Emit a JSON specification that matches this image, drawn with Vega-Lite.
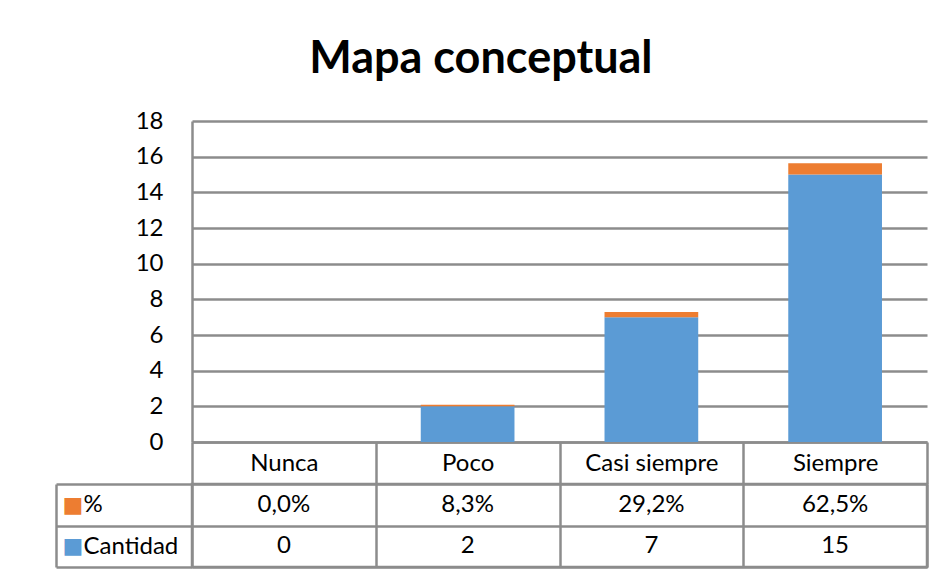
{
  "$schema": "https://vega.github.io/schema/vega-lite/v6.json",
  "background": "white",
  "padding": {"left": 53, "top": 37, "right": 10, "bottom": 2},
  "config": {
    "font": "Lato",
    "locale": {"number": {"decimal": ",", "thousands": ".", "grouping": [3], "currency": ["", " €"]}},
    "view": {"stroke": null},
    "axis": {
      "labelFont": "Lato",
      "labelFontSize": 24,
      "labelColor": "#000000",
      "domainColor": "#8c8c8c",
      "gridColor": "#8c8c8c",
      "tickColor": "#8c8c8c",
      "domainWidth": 2.5,
      "gridWidth": 2.5,
      "tickWidth": 2.5,
      "gridOpacity": 1,
      "title": null
    },
    "text": {"font": "Lato", "fontSize": 24, "color": "#000000"}
  },
  "title": {
    "text": "Mapa conceptual",
    "font": "Lato",
    "fontSize": 45,
    "fontWeight": "bold",
    "color": "#000000",
    "anchor": "middle",
    "dx": -10,
    "offset": 27
  },
  "datasets": {
    "d": [
      {"cat": "Nunca", "serie": "Cantidad", "value": 0},
      {"cat": "Poco", "serie": "Cantidad", "value": 2},
      {"cat": "Casi siempre", "serie": "Cantidad", "value": 7},
      {"cat": "Siempre", "serie": "Cantidad", "value": 15},
      {"cat": "Nunca", "serie": "%", "value": 0.0},
      {"cat": "Poco", "serie": "%", "value": 0.083},
      {"cat": "Casi siempre", "serie": "%", "value": 0.292},
      {"cat": "Siempre", "serie": "%", "value": 0.625}
    ]
  },
  "bounds": "flush",
  "spacing": 42,
  "vconcat": [
    {
      "width": 735,
      "height": 321,
      "data": {"name": "d"},
      "mark": {"type": "bar", "width": {"band": 0.51}},
      "encoding": {
        "x": {
          "field": "cat",
          "type": "nominal",
          "sort": ["Nunca", "Poco", "Casi siempre", "Siempre"],
          "scale": {"paddingInner": 0, "paddingOuter": 0},
          "axis": {
            "labelAngle": 0,
            "tickBand": "extent",
            "ticks": true,
            "tickSize": 42,
            "labelPadding": -21,
            "labelBaseline": "middle",
            "domain": true,
            "grid": false
          }
        },
        "y": {
          "field": "value",
          "type": "quantitative",
          "stack": "zero",
          "scale": {"domain": [0, 18], "nice": false},
          "axis": {
            "values": [0, 2, 4, 6, 8, 10, 12, 14, 16, 18],
            "ticks": false,
            "domain": true,
            "grid": true,
            "labelPadding": 29
          }
        },
        "color": {
          "field": "serie",
          "type": "nominal",
          "scale": {"domain": ["%", "Cantidad"], "range": ["#ED7D31", "#5B9BD5"]},
          "legend": null
        },
        "order": {"field": "serie", "sort": "descending"}
      }
    },
    {
      "width": 735,
      "height": 83,
      "data": {"name": "d"},
      "view": {"stroke": "#8c8c8c", "strokeWidth": 2.5},
      "encoding": {
        "x": {
          "field": "cat",
          "type": "nominal",
          "sort": ["Nunca", "Poco", "Casi siempre", "Siempre"],
          "scale": {"paddingInner": 0, "paddingOuter": 0},
          "axis": {
            "grid": true,
            "tickBand": "extent",
            "ticks": false,
            "labels": false,
            "domain": false
          }
        }
      },
      "layer": [
        {
          "transform": [{"filter": "datum.serie === '%'"}],
          "mark": {"type": "text"},
          "encoding": {
            "y": {
              "field": "serie",
              "type": "nominal",
              "sort": ["%", "Cantidad"],
              "scale": {"domain": ["%", "Cantidad"], "paddingInner": 0, "paddingOuter": 0},
              "axis": {
                "orient": "left",
                "grid": true,
                "tickBand": "extent",
                "ticks": true,
                "tickSize": 136,
                "domain": false,
                "labelAlign": "left",
                "labelPadding": -27
              }
            },
            "text": {"field": "value", "type": "quantitative", "format": ".1%"}
          }
        },
        {
          "transform": [{"filter": "datum.serie === 'Cantidad'"}],
          "mark": {"type": "text"},
          "encoding": {
            "y": {
              "field": "serie",
              "type": "nominal",
              "sort": ["%", "Cantidad"],
              "scale": {"domain": ["%", "Cantidad"], "paddingInner": 0, "paddingOuter": 0},
              "axis": {
                "orient": "left",
                "offset": 136,
                "grid": false,
                "ticks": false,
                "domain": true,
                "labelExpr": "'■'",
                "labelFont": "DejaVu Sans",
                "labelFontSize": 22,
                "labelAlign": "left",
                "labelPadding": -6,
                "labelColor": {"condition": {"test": "datum.value === '%'", "value": "#ED7D31"}, "value": "#5B9BD5"}
              }
            },
            "text": {"field": "value", "type": "quantitative", "format": "d"}
          }
        }
      ],
      "resolve": {"axis": {"y": "independent"}}
    }
  ]
}
